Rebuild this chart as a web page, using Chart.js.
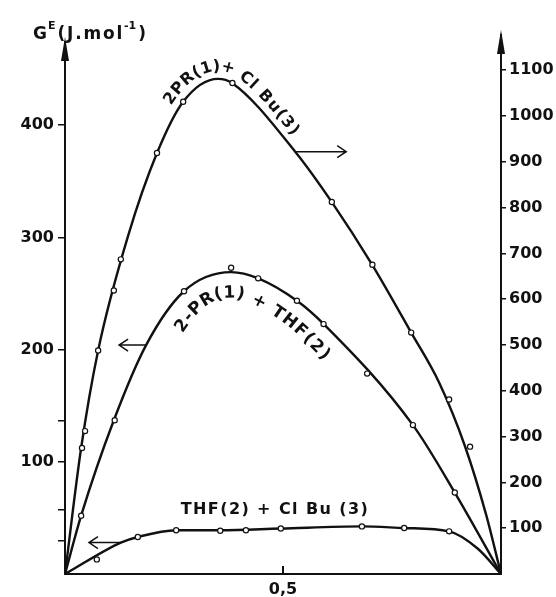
<!DOCTYPE html>
<html>
<head>
<meta charset="utf-8">
<script src="https://cdn.jsdelivr.net/npm/chart.js@4.4.1/dist/chart.umd.min.js"></script>
<style>
  html, body { margin: 0; padding: 0; background: #fff; }
  canvas { display: block; }
</style>
</head>
<body>
<canvas id="gChart" width="556" height="597"></canvas>
<script>
// 2PR(1) + ClBu(3) -> right axis
const prBuCurveX = [0, 0.037, 0.076, 0.144, 0.211, 0.271, 0.351, 0.383, 0.528, 0.612, 0.704, 0.794, 0.858, 0.917, 0.966, 1];
const prBuCurveY = [0, 275, 488, 736, 919, 1031, 1081, 1072, 922, 812, 676, 527, 418, 280, 129, 0];
const prBuPointsX = [0.039, 0.046, 0.076, 0.112, 0.128, 0.211, 0.271, 0.384, 0.612, 0.705, 0.794, 0.881, 0.929];
const prBuPointsY = [275, 312, 488, 619, 687, 919, 1031, 1072, 812, 675, 527, 381, 278];

// 2-PR(1) + THF(2) -> left axis
const prThfCurveX = [0, 0.037, 0.112, 0.186, 0.273, 0.381, 0.443, 0.532, 0.594, 0.798, 0.894, 1];
const prThfCurveY = [0, 52, 137, 204, 252, 269, 263.5, 243.5, 222.5, 132.7, 72.6, 0];
const prThfPointsX = [0.037, 0.114, 0.273, 0.381, 0.443, 0.532, 0.593, 0.693, 0.798, 0.894];
const prThfPointsY = [52, 137, 252, 273, 263.5, 243.5, 222.7, 178.6, 132.7, 72.6];

// THF(2) + ClBu(3) -> left axis
const thfBuCurveX = [0, 0.128, 0.167, 0.255, 0.356, 0.495, 0.681, 0.778, 0.881, 0.947, 1];
const thfBuCurveY = [0, 28, 33, 39, 39, 40.5, 42.4, 41, 38, 22.5, 0];
const thfBuPointsX = [0.073, 0.167, 0.255, 0.356, 0.415, 0.495, 0.681, 0.778, 0.881];
const thfBuPointsY = [13, 33, 39, 38.5, 39, 40.5, 42.4, 41, 38];

// axes
const leftTicks = [30, 57, 100, 137, 200, 300, 400];
const rightTicks = [100, 200, 300, 400, 500, 600, 700, 800, 900, 1000, 1100];
const xTicks = [0.5];
const xTickLabels = ['0,5'];
const leftMax = 467;
const rightMax = 1144;

// little arrows saying which axis a curve belongs to
const pointers = [
  { axis: 'yR', from: 0.528, to: 0.645, y: 922 },
  { axis: 'yL', from: 0.186, to: 0.124, y: 204 },
  { axis: 'yL', from: 0.128, to: 0.055, y: 28 }
];

const ink = '#111';
const fontFamily = "'DejaVu Sans', sans-serif";

function pairs(xs, ys) {
  return xs.map((x, i) => ({ x: x, y: ys[i] }));
}

function curve(xs, ys, axis) {
  return {
    type: 'line',
    data: pairs(xs, ys),
    yAxisID: axis,
    borderColor: ink,
    borderWidth: 2.4,
    pointRadius: 0,
    cubicInterpolationMode: 'monotone',
    fill: false,
    order: 1
  };
}

function markers(xs, ys, axis) {
  return {
    type: 'scatter',
    data: pairs(xs, ys),
    yAxisID: axis,
    pointRadius: 2.6,
    pointBorderWidth: 1.2,
    pointBorderColor: ink,
    pointBackgroundColor: '#fff',
    order: 0
  };
}

// sample the drawn bezier of a line dataset into a dense polyline,
// shifted sideways by `offset` pixels (positive = above the curve)
function sampleCurve(chart, index, offset) {
  const pts = chart.getDatasetMeta(index).data;
  const path = [];
  for (let i = 0; i < pts.length - 1; i++) {
    const p = pts[i], q = pts[i + 1];
    const c1x = p.cp2x ?? p.x, c1y = p.cp2y ?? p.y;
    const c2x = q.cp1x ?? q.x, c2y = q.cp1y ?? q.y;
    for (let k = 0; k < 20; k++) {
      const t = k / 20, u = 1 - t;
      path.push({
        x: u * u * u * p.x + 3 * u * u * t * c1x + 3 * u * t * t * c2x + t * t * t * q.x,
        y: u * u * u * p.y + 3 * u * u * t * c1y + 3 * u * t * t * c2y + t * t * t * q.y
      });
    }
  }
  const last = pts[pts.length - 1];
  path.push({ x: last.x, y: last.y });
  return path.map((p, i) => {
    const a = path[Math.max(0, i - 2)], b = path[Math.min(path.length - 1, i + 2)];
    const ang = Math.atan2(b.y - a.y, b.x - a.x);
    return { x: p.x + Math.sin(ang) * offset, y: p.y - Math.cos(ang) * offset };
  });
}

function textOnPath(ctx, path, text, startPx, gap) {
  const L = [0];
  for (let i = 1; i < path.length; i++) {
    L.push(L[i - 1] + Math.hypot(path[i].x - path[i - 1].x, path[i].y - path[i - 1].y));
  }
  const at = s => {
    let i = 1;
    while (i < L.length - 1 && L[i] < s) i++;
    const t = (s - L[i - 1]) / ((L[i] - L[i - 1]) || 1);
    return {
      x: path[i - 1].x + t * (path[i].x - path[i - 1].x),
      y: path[i - 1].y + t * (path[i].y - path[i - 1].y)
    };
  };
  let s = L[Math.max(0, path.findIndex(p => p.x >= startPx))];
  ctx.textAlign = 'center';
  ctx.textBaseline = 'middle';
  for (const ch of text) {
    const w = ctx.measureText(ch).width;
    const m = s + w / 2;
    const p = at(m), a = at(m - 6), b = at(m + 6);
    ctx.save();
    ctx.translate(p.x, p.y);
    ctx.rotate(Math.atan2(b.y - a.y, b.x - a.x));
    ctx.fillText(ch, 0, 0);
    ctx.restore();
    s += w + gap;
  }
}

function spacedText(ctx, str, x, y, gap) {
  ctx.textAlign = 'left';
  for (const ch of str) {
    ctx.fillText(ch, x, y);
    x += ctx.measureText(ch).width + gap;
  }
  return x;
}

function spacedWidth(ctx, str, gap) {
  let w = 0;
  for (const ch of str) w += ctx.measureText(ch).width + gap;
  return w - gap;
}

function axisArrow(ctx, x, fromY, tipY) {
  ctx.beginPath();
  ctx.moveTo(x, fromY);
  ctx.lineTo(x, tipY + 4);
  ctx.stroke();
  ctx.beginPath();
  ctx.moveTo(x, tipY);
  ctx.lineTo(x - 4, tipY + 24);
  ctx.lineTo(x + 4, tipY + 24);
  ctx.closePath();
  ctx.fill();
}

const annotate = {
  id: 'annotate',
  afterDatasetsDraw(chart) {
    const ctx = chart.ctx;
    const area = chart.chartArea;
    const sx = chart.scales.x;
    ctx.save();
    ctx.strokeStyle = ink;
    ctx.fillStyle = ink;
    ctx.lineWidth = 2;

    // arrow heads on the two vertical axes
    axisArrow(ctx, area.left, area.top, 37);
    axisArrow(ctx, area.right, area.top, 30);

    // inward tick on the x axis
    xTicks.forEach(v => {
      const px = sx.getPixelForValue(v);
      ctx.beginPath();
      ctx.moveTo(px, area.bottom);
      ctx.lineTo(px, area.bottom - 8);
      ctx.stroke();
    });

    // pointer arrows
    ctx.lineWidth = 1.5;
    pointers.forEach(p => {
      const sy = chart.scales[p.axis];
      const x0 = sx.getPixelForValue(p.from), x1 = sx.getPixelForValue(p.to);
      const y = sy.getPixelForValue(p.y);
      const d = Math.sign(x1 - x0);
      ctx.beginPath();
      ctx.moveTo(x0, y);
      ctx.lineTo(x1, y);
      ctx.moveTo(x1 - d * 9, y - 6);
      ctx.lineTo(x1, y);
      ctx.lineTo(x1 - d * 9, y + 6);
      ctx.stroke();
    });

    // curve labels
    ctx.font = 'bold 16px ' + fontFamily;
    textOnPath(ctx, sampleCurve(chart, 0, 12), '2PR(1)+ Cl Bu(3)', sx.getPixelForValue(0.235), 1.2);
    ctx.font = 'bold 17px ' + fontFamily;
    textOnPath(ctx, sampleCurve(chart, 2, -21), '2-PR(1) + THF(2)', sx.getPixelForValue(0.26), 1.5);

    ctx.font = 'bold 16px ' + fontFamily;
    const label3 = 'THF(2) + Cl Bu (3)';
    const w3 = spacedWidth(ctx, label3, 1.4);
    ctx.textBaseline = 'middle';
    spacedText(ctx, label3, sx.getPixelForValue(0.48) - w3 / 2, chart.scales.yL.getPixelForValue(57), 1.4);

    // axis title G^E (J.mol^-1)
    ctx.textBaseline = 'alphabetic';
    ctx.font = 'bold 17px ' + fontFamily;
    let tx = spacedText(ctx, 'G', area.left - 32, 39, 0);
    ctx.font = 'bold 11px ' + fontFamily;
    tx = spacedText(ctx, 'E', tx + 1, 29, 0);
    ctx.font = 'bold 17px ' + fontFamily;
    tx = spacedText(ctx, '(J.mol', tx + 2, 39, 1.8);
    ctx.font = 'bold 11px ' + fontFamily;
    tx = spacedText(ctx, '-1', tx, 29, 0);
    ctx.font = 'bold 17px ' + fontFamily;
    spacedText(ctx, ')', tx + 2, 39, 0);

    ctx.restore();
  }
};

const tickFont = { family: fontFamily, size: 16, weight: 'bold' };

new Chart(document.getElementById('gChart'), {
  data: {
    datasets: [
      curve(prBuCurveX, prBuCurveY, 'yR'),
      markers(prBuPointsX, prBuPointsY, 'yR'),
      curve(prThfCurveX, prThfCurveY, 'yL'),
      markers(prThfPointsX, prThfPointsY, 'yL'),
      curve(thfBuCurveX, thfBuCurveY, 'yL'),
      markers(thfBuPointsX, thfBuPointsY, 'yL')
    ]
  },
  options: {
    responsive: false,
    animation: false,
    layout: { padding: { top: 50, left: 0, right: 0, bottom: 0 } },
    plugins: {
      legend: { display: false },
      tooltip: { enabled: false }
    },
    scales: {
      x: {
        type: 'linear',
        min: 0,
        max: 1,
        afterBuildTicks: s => { s.ticks = xTicks.map(v => ({ value: v })); },
        afterFit: s => { s.height = 23; },
        ticks: {
          color: ink,
          font: tickFont,
          padding: 6,
          maxRotation: 0,
          callback: (v) => xTickLabels[xTicks.indexOf(v)] ?? ''
        },
        grid: { drawOnChartArea: false, drawTicks: false },
        border: { display: true, color: ink, width: 2 }
      },
      yL: {
        type: 'linear',
        position: 'left',
        min: 0,
        max: leftMax,
        afterBuildTicks: s => { s.ticks = leftTicks.map(v => ({ value: v })); },
        afterFit: s => { s.width = 65; },
        ticks: {
          color: ink,
          font: tickFont,
          padding: 4,
          callback: v => (v % 100 === 0 ? String(v) : '')
        },
        grid: { drawOnChartArea: false, drawTicks: true, tickLength: 7, color: ink, lineWidth: 1.5 },
        border: { display: true, color: ink, width: 2 }
      },
      yR: {
        type: 'linear',
        position: 'right',
        min: 0,
        max: rightMax,
        afterBuildTicks: s => { s.ticks = rightTicks.map(v => ({ value: v })); },
        afterFit: s => { s.width = 55; },
        ticks: {
          color: ink,
          font: tickFont,
          padding: 3,
          callback: v => String(v)
        },
        grid: { drawOnChartArea: false, drawTicks: true, tickLength: 5, color: ink, lineWidth: 1.5 },
        border: { display: true, color: ink, width: 2 }
      }
    }
  },
  plugins: [annotate]
});
</script>
</body>
</html>
